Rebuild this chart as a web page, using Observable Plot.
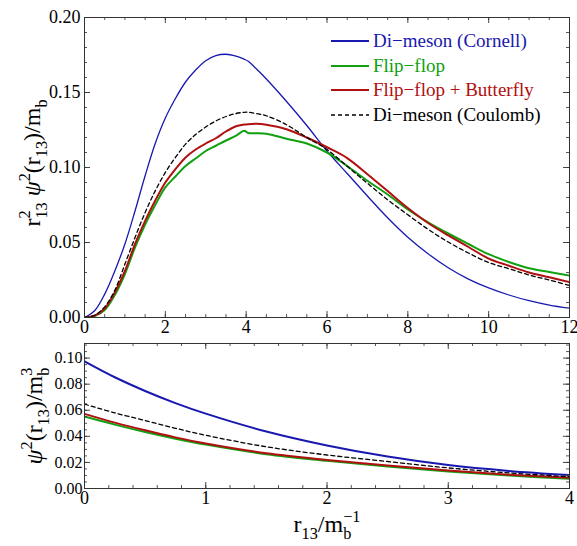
<!DOCTYPE html>
<html><head><meta charset="utf-8">
<script src="https://cdn.jsdelivr.net/npm/d3@7"></script>
<script src="https://cdn.jsdelivr.net/npm/@observablehq/plot@0.6"></script>
<style>
body{margin:0;background:#fff;}
#wrap{position:relative;width:577px;height:546px;font-family:"Liberation Serif","Times New Roman",serif;overflow:hidden;}
#top,#bot{position:absolute;left:0;}
#top{top:0}
#bot{top:340px}
#legend{position:absolute;left:331px;top:29px;}
.row{display:flex;align-items:center;height:24.5px;font-size:19px;white-space:nowrap;}
.row svg{margin-right:4px;}
</style></head><body>
<div id="wrap"><div id="top"></div><div id="bot"></div><div id="legend"></div></div>
<script>
// ---------- data ----------
const seriesNames = ["Di\u2212meson (Cornell)", "Flip\u2212flop", "Flip\u2212flop + Butterfly", "Di\u2212meson (Coulomb)"];
const seriesColors = ["#1818b0", "#10a010", "#b01010", "#000000"];

// top panel: r13^2 psi^2 vs r13
const xTop = [0,0.25,0.5,0.75,1,1.25,1.5,1.75,2,2.25,2.5,2.75,3,3.25,3.5,3.75,3.95,4.05,4.25,4.5,5,5.5,6,6.5,7,7.5,8,8.5,9,9.5,10,10.5,11,11.5,12];
const cornellTop = [0,0.0045,0.0156,0.031,0.049,0.071,0.0945,0.116,0.133,0.146,0.157,0.165,0.1712,0.1746,0.1755,0.1742,0.1722,0.1708,0.1658,0.159,0.144,0.128,0.111,0.096,0.081,0.0665,0.0535,0.0425,0.0332,0.0256,0.0197,0.015,0.0112,0.0083,0.0062];
const flipTop = [0,0.001,0.005,0.015,0.029,0.0467,0.062,0.075,0.0867,0.094,0.101,0.106,0.111,0.1145,0.118,0.1212,0.1245,0.123,0.1229,0.1225,0.1192,0.116,0.110,0.101,0.0912,0.082,0.072,0.0635,0.056,0.049,0.0422,0.037,0.0328,0.0303,0.028];
const butterflyTop = [0,0.0012,0.006,0.0167,0.031,0.049,0.0644,0.078,0.090,0.0989,0.1067,0.112,0.116,0.1195,0.124,0.1275,0.1286,0.1289,0.1291,0.1285,0.1255,0.120,0.1135,0.1063,0.0955,0.0843,0.073,0.063,0.0547,0.047,0.0393,0.0345,0.030,0.0268,0.0236];
const coulombTop = [0,0.0015,0.0071,0.0182,0.0356,0.0533,0.070,0.0844,0.0967,0.1067,0.1156,0.122,0.127,0.131,0.134,0.136,0.1368,0.1368,0.136,0.1345,0.1285,0.120,0.112,0.1008,0.0895,0.0785,0.0685,0.0588,0.0503,0.043,0.0366,0.0325,0.0283,0.025,0.0213];

// bottom panel: psi^2 vs r13
const xBot = [0,0.25,0.5,0.75,1,1.5,2,2.5,3,3.5,4];
const cornellBot = [0.0975,0.0853,0.0748,0.0655,0.0574,0.0437,0.0330,0.0245,0.0180,0.0135,0.0103];
const flipBot = [0.0552,0.049,0.0433,0.0382,0.0337,0.0263,0.0212,0.0168,0.0130,0.0099,0.0074];
const butterflyBot = [0.0572,0.0505,0.0446,0.0392,0.0345,0.027,0.0219,0.0176,0.0138,0.0106,0.0082];
const coulombBot = [0.0647,0.058,0.0521,0.0462,0.0408,0.032,0.0257,0.0207,0.0158,0.0120,0.0090];

// ticks
const xTicksTop = [0,2,4,6,8,10,12];
const yTicksTop = [0,0.05,0.10,0.15,0.20];
const xTicksBot = [0,1,2,3,4];
const yTicksBot = [0,0.02,0.04,0.06,0.08,0.10];

// ---------- helpers ----------
const FONT = '"Liberation Serif","Times New Roman",serif';
const pts = (xs, ys) => xs.map((x, i) => ({x, y: ys[i]}));

function frameTicks(xs, ys, W, H, len, stroke) {
  return [
    Plot.ruleX(xs, {x: d => d, insetTop: H - len, stroke, strokeWidth: 0.9}),
    Plot.ruleX(xs, {x: d => d, insetBottom: H - len, stroke, strokeWidth: 0.9}),
    Plot.ruleY(ys, {y: d => d, insetRight: W - len, stroke, strokeWidth: 0.9}),
    Plot.ruleY(ys, {y: d => d, insetLeft: W - len, stroke, strokeWidth: 0.9})
  ];
}

function rich(g, parts, size) {
  const t = g.append("text").attr("font-size", size).attr("text-anchor", "middle")
    .attr("fill", "#000").attr("font-family", FONT);
  let cur = 0;
  for (const p of parts) {
    const target = p.k === "sup" ? -0.42 * size : p.k === "sub" ? 0.28 * size : 0;
    const ts = t.append("tspan").text(p.t).attr("dy", target - cur);
    if (p.k) ts.attr("font-size", size * 0.68);
    if (p.dx) ts.attr("dx", p.dx);
    if (p.i) ts.attr("font-style", "italic");
    cur = target;
  }
  return t;
}

// ---------- top panel ----------
const W = 577 - 84 - 8;
const Htop = 340 - 17 - 23;
const topSeries = [cornellTop, flipTop, butterflyTop, coulombTop];
const topWidths = [1.3, 2, 2, 1.3];

const topPlot = Plot.plot({
  width: 577, height: 340,
  marginLeft: 84, marginRight: 8, marginTop: 17, marginBottom: 23,
  x: {domain: [0, 12]},
  y: {domain: [0, 0.2]},
  style: {fontFamily: FONT, fontSize: "18px", color: "#000", background: "transparent", overflow: "visible"},
  marks: [
    ...topSeries.map((s, i) => Plot.line(pts(xTop, s), {
      x: "x", y: "y", stroke: seriesColors[i], strokeWidth: topWidths[i],
      strokeDasharray: i === 3 ? "4,3" : null, curve: "catmull-rom", clip: true
    })),
    ...frameTicks(d3.range(0, 12.001, 0.5), d3.range(0, 0.2001, 0.01), W, Htop, 3, "#444"),
    ...frameTicks(xTicksTop, yTicksTop, W, Htop, 6, "#333"),
    Plot.frame({stroke: "#333", strokeWidth: 1}),
    Plot.axisX({ticks: xTicksTop, tickSize: 0, tickPadding: 3, label: null, tickFormat: d => String(d)}),
    Plot.axisY({ticks: yTicksTop, tickSize: 0, tickPadding: 4, label: null, tickFormat: d3.format(".2f")})
  ]
});
document.getElementById("top").appendChild(topPlot);
{
  const g = d3.select(topPlot).append("g").attr("transform", "translate(40,163) rotate(-90)");
  const s = 24, w = s * 0.68 * 0.5;
  rich(g, [{t: "r"}, {t: "2", k: "sup"}, {t: "13", k: "sub", dx: -w}, {t: "\u00a0"},
           {t: "\u03c8", i: true}, {t: "2", k: "sup"}, {t: "(r"}, {t: "13", k: "sub"},
           {t: ")/m"}, {t: "b", k: "sub"}], s);
}

// ---------- bottom panel ----------
const Hbot = 206 - 3 - 58;
const botSeries = [cornellBot, flipBot, butterflyBot, coulombBot];
const botWidths = [2, 2, 2, 1.3];
const botPlot = Plot.plot({
  width: 577, height: 206,
  marginLeft: 84, marginRight: 8, marginTop: 3, marginBottom: 58,
  x: {domain: [0, 4]},
  y: {domain: [0, 0.1112]},
  style: {fontFamily: FONT, fontSize: "18px", color: "#000", background: "transparent", overflow: "visible"},
  marks: [
    ...botSeries.map((s, i) => Plot.line(pts(xBot, s), {
      x: "x", y: "y", stroke: seriesColors[i], strokeWidth: botWidths[i],
      strokeDasharray: i === 3 ? "4,3" : null, curve: "catmull-rom", clip: true
    })),
    ...frameTicks(d3.range(0, 4.001, 0.2), d3.range(0, 0.1101, 0.005), W, Hbot, 3, "#444"),
    ...frameTicks(xTicksBot, yTicksBot, W, Hbot, 6, "#333"),
    Plot.frame({stroke: "#333", strokeWidth: 1}),
    Plot.axisX({ticks: xTicksBot, tickSize: 0, tickPadding: 3, label: null, tickFormat: d => String(d)}),
    Plot.axisY({ticks: yTicksBot, tickSize: 0, tickPadding: 2, label: null, fontSize: 16, tickFormat: d3.format(".2f")})
  ]
});
document.getElementById("bot").appendChild(botPlot);
{
  const s = 24, w = s * 0.68 * 0.5;
  const g = d3.select(botPlot).append("g").attr("transform", "translate(42,76) rotate(-90)");
  rich(g, [{t: "\u03c8", i: true}, {t: "2", k: "sup"}, {t: "(r"}, {t: "13", k: "sub"},
           {t: ")/m"}, {t: "b", k: "sub"}, {t: "3", k: "sup", dx: -w}], s);
  const gx = d3.select(botPlot).append("g").attr("transform", "translate(327,192)");
  rich(gx, [{t: "r"}, {t: "13", k: "sub"}, {t: "/m"}, {t: "b", k: "sub"}, {t: "\u22121", k: "sup", dx: -w}], s);
}

// ---------- legend ----------
const leg = d3.select("#legend");
seriesNames.forEach((name, i) => {
  const row = leg.append("div").attr("class", "row");
  const sv = row.append("svg").attr("width", 38).attr("height", 10);
  sv.append("line").attr("x1", 0).attr("x2", 38).attr("y1", 5).attr("y2", 5)
    .attr("stroke", seriesColors[i]).attr("stroke-width", i === 3 ? 1.3 : 2)
    .attr("stroke-dasharray", i === 3 ? "4,3" : null);
  row.append("span").text(name).style("color", seriesColors[i]);
});
</script>
</body></html>
